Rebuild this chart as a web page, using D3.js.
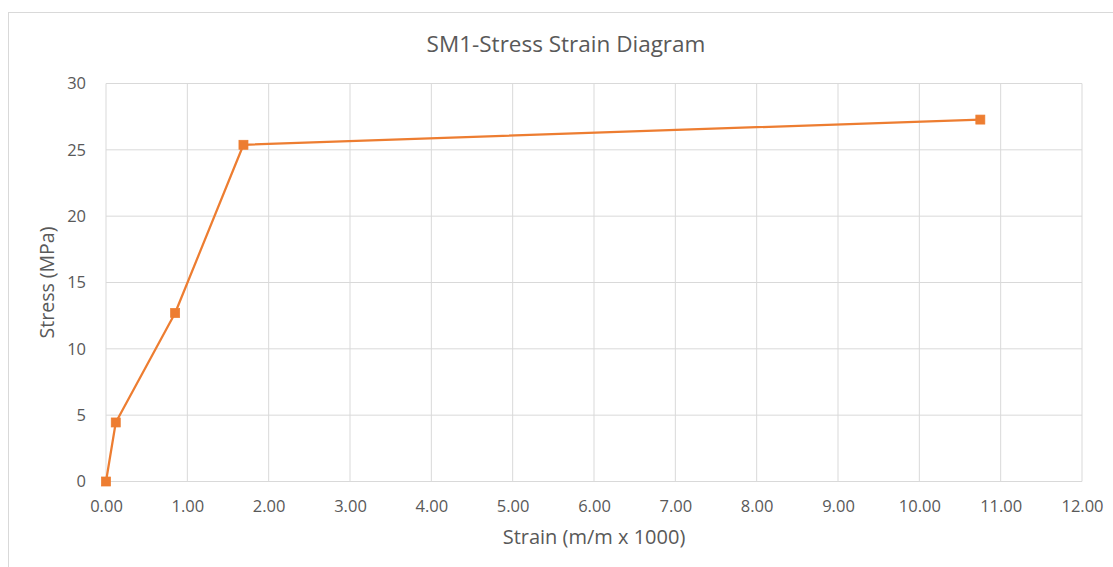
<!DOCTYPE html>
<html>
<head>
<meta charset="utf-8">
<script src="https://cdn.jsdelivr.net/npm/d3@7"></script>
<style>
  body { margin: 0; background: #fff; }
  svg { display: block; font-family: "Open Sans", sans-serif; }
  .grid line { stroke: #d9d9d9; stroke-width: 1; }
  .tick text { fill: #595959; font-size: 16.5px; }
</style>
</head>
<body>
<svg id="chart" width="1113" height="567"></svg>
<script>
// data
const strain = [0, 0.12, 0.85, 1.69, 10.75];
const stress = [0, 4.45, 12.7, 25.38, 27.28];
const xTicks = [0, 1, 2, 3, 4, 5, 6, 7, 8, 9, 10, 11, 12];
const yTicks = [0, 5, 10, 15, 20, 25, 30];

const W = 1113, H = 567;
const margin = { left: 106, right: 31, top: 83.5, bottom: 85.5 };
const width = W - margin.left - margin.right;
const height = H - margin.top - margin.bottom;

const svg = d3.select("#chart");

// chart border
svg.append("rect")
    .attr("x", 8.5).attr("y", 12.5)
    .attr("width", 1200).attr("height", 700)
    .attr("fill", "none")
    .attr("stroke", "#d9d9d9");

const g = svg.append("g")
    .attr("transform", `translate(${margin.left},${margin.top})`);

const x = d3.scaleLinear().domain([0, 12]).range([0, width]);
const y = d3.scaleLinear().domain([0, 30]).range([height, 0]);

// gridlines
g.append("g").attr("class", "grid")
    .selectAll("line").data(yTicks).join("line")
    .attr("x1", 0).attr("x2", width)
    .attr("y1", d => y(d)).attr("y2", d => y(d));

g.append("g").attr("class", "grid")
    .selectAll("line").data(xTicks).join("line")
    .attr("y1", 0).attr("y2", height)
    .attr("x1", d => x(d)).attr("x2", d => x(d));

// axes (labels only, Excel style)
const xAxis = g.append("g")
    .attr("transform", `translate(0,${height})`)
    .call(d3.axisBottom(x).tickValues(xTicks).tickFormat(d3.format(".2f")).tickSize(0).tickPadding(19));
const yAxis = g.append("g")
    .call(d3.axisLeft(y).tickValues(yTicks).tickSize(0).tickPadding(20));
[xAxis, yAxis].forEach(a => {
    a.select(".domain").remove();
    a.selectAll(".tick text").attr("font-family", "Open Sans, sans-serif");
});

// the line
const pts = strain.map((d, i) => [d, stress[i]]);
const line = d3.line().x(d => x(d[0])).y(d => y(d[1]));

g.append("path")
    .datum(pts)
    .attr("d", line)
    .attr("fill", "none")
    .attr("stroke", "#ed7d31")
    .attr("stroke-width", 2.25)
    .attr("stroke-linejoin", "round");

const ms = 9;
g.selectAll("rect.marker").data(pts).join("rect")
    .attr("class", "marker")
    .attr("x", d => x(d[0]) - ms / 2)
    .attr("y", d => y(d[1]) - ms / 2)
    .attr("width", ms).attr("height", ms)
    .attr("fill", "#ed7d31")
    .attr("stroke", "#ed7d31")
    .attr("stroke-width", 0.75);

// titles
svg.append("text")
    .attr("x", 566).attr("y", 52)
    .attr("text-anchor", "middle")
    .attr("fill", "#595959")
    .attr("font-size", 22.5)
    .text("SM1-Stress Strain Diagram");

svg.append("text")
    .attr("x", margin.left + width / 2).attr("y", 544)
    .attr("text-anchor", "middle")
    .attr("fill", "#595959")
    .attr("font-size", 20)
    .text("Strain (m/m x 1000)");

svg.append("text")
    .attr("transform", `translate(54,${margin.top + height / 2}) rotate(-90)`)
    .attr("text-anchor", "middle")
    .attr("fill", "#595959")
    .attr("font-size", 19.5)
    .text("Stress (MPa)");
</script>
</body>
</html>
